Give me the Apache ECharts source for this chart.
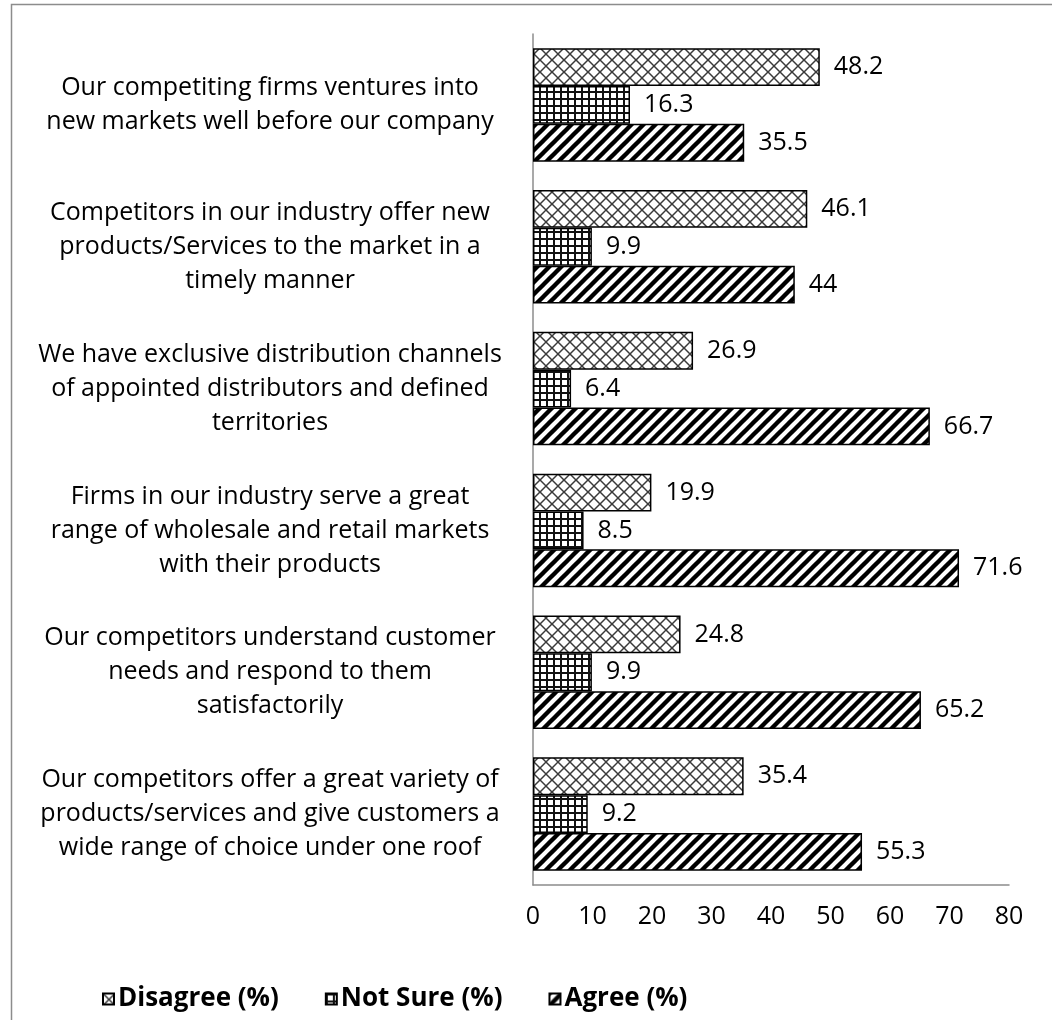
<!DOCTYPE html>
<html>
<head>
<meta charset="utf-8">
<script src="https://cdn.jsdelivr.net/npm/echarts@6/dist/echarts.min.js"></script>
<style>
  html, body { margin: 0; padding: 0; background: #fff; }
  #chart { width: 1052px; height: 1020px; }
</style>
</head>
<body>
<div id="chart"></div>
<script>
// Survey statements (top to bottom), line breaks as printed
const categories = [
  'Our competiting firms ventures into\nnew markets well before our company',
  'Competitors in our industry offer new\nproducts/Services to the market in a\ntimely manner',
  'We have exclusive distribution channels\nof appointed distributors and defined\nterritories',
  'Firms in our industry serve a great\nrange of wholesale and retail markets\nwith their products',
  'Our competitors understand customer\nneeds and respond to them\nsatisfactorily',
  'Our competitors offer a great variety of\nproducts/services and give customers a\nwide range of choice under one roof'
];

const disagree = [48.2, 46.1, 26.9, 19.9, 24.8, 35.4];
const notSure  = [16.3, 9.9, 6.4, 8.5, 9.9, 9.2];
const agree    = [35.5, 44, 66.7, 71.6, 65.2, 55.3];

const seriesNames = ['Disagree (%)', 'Not Sure (%)', 'Agree (%)'];
const xTicks = { min: 0, max: 80, interval: 10 };

const FONT = '"Open Sans", "Noto Sans", sans-serif';

// Hatch fills built as small repeating canvas tiles
function makeTile(size, draw) {
  const c = document.createElement('canvas');
  c.width = size; c.height = size;
  const g = c.getContext('2d');
  g.fillStyle = '#fff';
  g.fillRect(0, 0, size, size);
  draw(g, size);
  return { image: c, repeat: 'repeat' };
}

// diagonal cross-hatch (diamond lattice)
const crossFill = makeTile(12, (g, s) => {
  g.strokeStyle = '#3a3a3a';
  g.lineWidth = 1.5;
  for (let k = -1; k <= 1; k++) {
    g.beginPath(); g.moveTo(k * s, 0); g.lineTo(k * s + s, s); g.stroke();
    g.beginPath(); g.moveTo(k * s + s, 0); g.lineTo(k * s, s); g.stroke();
  }
});

// small square grid
const gridFill = makeTile(7, (g, s) => {
  g.fillStyle = '#111';
  g.fillRect(0, 0, s, 2);
  g.fillRect(0, 0, 2, s);
});

// bold forward-slash stripes along x + y = c
const stripeFill = makeTile(12, (g, s) => {
  g.strokeStyle = '#000';
  g.lineWidth = 4.4;
  [0, s, 2 * s].forEach(cst => {
    g.beginPath();
    g.moveTo(cst + 4, -4);
    g.lineTo(cst - s - 4, s + 4);
    g.stroke();
  });
});

const fills = [crossFill, gridFill, stripeFill];
const values = [disagree, notSure, agree];

const chart = echarts.init(document.getElementById('chart'), null, { renderer: 'canvas' });

chart.setOption({
  backgroundColor: '#fff',
  animation: false,
  textStyle: { fontFamily: FONT },
  graphic: [{
    type: 'rect',
    shape: { x: 11.5, y: 4.5, width: 1200, height: 1200 },
    style: { fill: 'none', stroke: '#8c8c8c', lineWidth: 1.5 },
    silent: true
  }],
  grid: { left: 533, right: 43, top: 34, bottom: 135, containLabel: false },
  legend: {
    left: 97,
    top: 981,
    itemWidth: 11,
    itemHeight: 11,
    itemGap: 46,
    icon: 'rect',
    textStyle: { fontFamily: FONT, fontSize: 26, fontWeight: 'bold', color: '#000', padding: [0, 0, 0, -1] },
    data: seriesNames
  },
  xAxis: {
    type: 'value',
    min: xTicks.min,
    max: xTicks.max,
    interval: xTicks.interval,
    splitLine: { show: false },
    axisTick: { show: false },
    axisLine: { show: true, lineStyle: { color: '#8c8c8c', width: 1.5 } },
    axisLabel: { fontFamily: FONT, fontSize: 25, color: '#000', margin: 19 }
  },
  yAxis: {
    type: 'category',
    inverse: true,
    data: categories,
    axisTick: { show: false },
    axisLine: { show: true, lineStyle: { color: '#8c8c8c', width: 1.5 } },
    axisLabel: {
      fontFamily: FONT,
      fontSize: 25,
      lineHeight: 34,
      color: '#000',
      align: 'center',
      margin: 263
    }
  },
  series: seriesNames.map((name, i) => ({
    name,
    type: 'bar',
    data: values[i],
    barGap: '0%',
    barCategoryGap: '20%',
    itemStyle: { color: fills[i], borderColor: '#000', borderWidth: 1.5 },
    label: {
      show: true,
      position: 'right',
      distance: 14,
      fontFamily: FONT,
      fontSize: 25,
      color: '#000'
    }
  }))
});
</script>
</body>
</html>
